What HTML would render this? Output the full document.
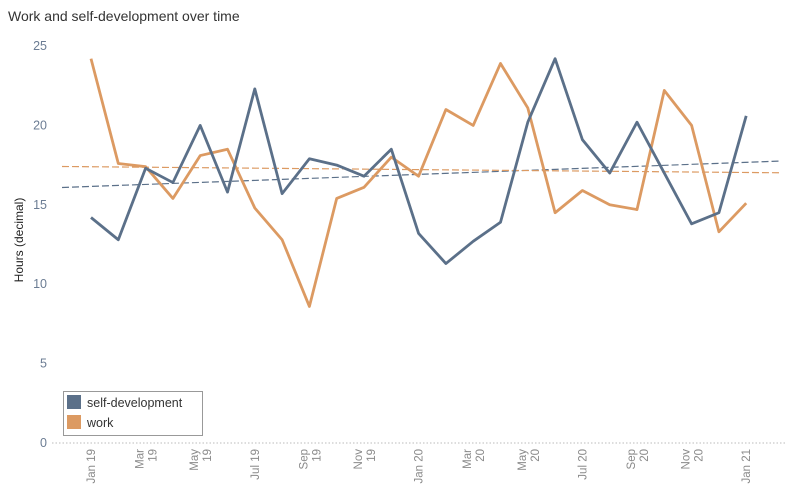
<!DOCTYPE html>
<html><head><meta charset="utf-8"><style>
body{margin:0;background:#fff;width:785px;height:496px;overflow:hidden;font-family:"Liberation Sans",sans-serif}
svg{display:block}
</style></head><body>
<svg id="chart" width="785" height="496">
<text x="8" y="21" font-size="14" fill="#333">Work and self-development over time</text>
<text transform="translate(23,240) rotate(-90)" text-anchor="middle" font-size="12" fill="#222">Hours (decimal)</text>
<g id="yaxis"></g>
<g id="xaxis"></g>
<line x1="52" y1="443" x2="785" y2="443" stroke="#bbb" stroke-dasharray="1.5,2"/>
<g id="trends"></g>
<g id="series"></g>
<g>
<rect x="63.5" y="391.5" width="139" height="44" fill="#fff" stroke="#999"/>
<rect x="67" y="395" width="14" height="14" fill="#5b7089"/>
<text x="87" y="407" font-size="12.5" fill="#333">self-development</text>
<rect x="67" y="415" width="14" height="14" fill="#dc9a62"/>
<text x="87" y="427" font-size="12.5" fill="#333">work</text>
</g>
</svg>
<script>
const months = ["Jan 19","Feb 19","Mar 19","Apr 19","May 19","Jun 19","Jul 19","Aug 19","Sep 19","Oct 19","Nov 19","Dec 19","Jan 20","Feb 20","Mar 20","Apr 20","May 20","Jun 20","Jul 20","Aug 20","Sep 20","Oct 20","Nov 20","Dec 20","Jan 21"];
const selfDev = [14.2,12.8,17.3,16.4,20.0,15.8,22.3,15.7,17.9,17.5,16.8,18.5,13.2,11.3,12.7,13.9,20.2,24.2,19.1,17.0,20.2,17.0,13.8,14.5,20.6];
const work = [24.2,17.6,17.4,15.4,18.1,18.5,14.8,12.8,8.6,15.4,16.1,18.0,16.8,21.0,20.0,23.9,21.1,14.5,15.9,15.0,14.7,22.2,20.0,13.3,15.1];
const yTicks = [0,5,10,15,20,25];
const xTickLabels = [["Jan 19"],["Mar","19"],["May","19"],["Jul 19"],["Sep","19"],["Nov","19"],["Jan 20"],["Mar","20"],["May","20"],["Jul 20"],["Sep","20"],["Nov","20"],["Jan 21"]];

const NS="http://www.w3.org/2000/svg";
const X0=91, DX=27.3, Y0=443, DY=15.88;
const xs=i=>X0+i*DX;
const ys=v=>Y0-v*DY;
function mk(t,a,p){const e=document.createElementNS(NS,t);for(const k in a)e.setAttribute(k,a[k]);p.appendChild(e);return e;}

const ya=document.getElementById('yaxis');
yTicks.forEach(v=>{
  const t=mk('text',{x:47,y:ys(v)+4,'text-anchor':'end','font-size':12.5,fill:'#6b7c93'},ya);
  t.textContent=v;
  
  
});
const xa=document.getElementById('xaxis');
xTickLabels.forEach((lab,j)=>{
  const x=xs(j*2);
  const t=mk('text',{transform:`translate(${x},449) rotate(-90)`,'text-anchor':'end','font-size':11.5,fill:'#8a8a8a'},xa);
  
  
  if(lab.length===1){const s=mk('tspan',{x:0,y:4},t);s.textContent=lab[0];}
  else{const s1=mk('tspan',{x:0,y:-2},t);s1.textContent=lab[0];const s2=mk('tspan',{x:0,y:11},t);s2.textContent=lab[1];}
});

function trend(vals){
  const n=vals.length;let sx=0,sy=0,sxx=0,sxy=0;
  vals.forEach((v,i)=>{sx+=i;sy+=v;sxx+=i*i;sxy+=i*v;});
  const b=(n*sxy-sx*sy)/(n*sxx-sx*sx);const a=(sy-b*sx)/n;return [a,b];
}
const tg=document.getElementById('trends');
[[selfDev,'#5b7089','trend-self-development'],[work,'#dc9a62','trend-work']].forEach(([vals,c,name])=>{
  const [a,b]=trend(vals);
  const iL=(62-X0)/DX, iR=(780-X0)/DX;
  const l=mk('line',{x1:62,y1:ys(a+b*iL),x2:780,y2:ys(a+b*iR),stroke:c,'stroke-width':1.2,'stroke-dasharray':'7,3'},tg);
  
  
});
const sg=document.getElementById('series');
[[work,'#dc9a62','line-work'],[selfDev,'#5b7089','line-self-development']].forEach(([vals,c,name])=>{
  const p=mk('polyline',{points:vals.map((v,i)=>xs(i)+','+ys(v)).join(' '),fill:'none',stroke:c,'stroke-width':2.8,'stroke-linejoin':'round'},sg);
  
  
});
</script>
</body></html>
